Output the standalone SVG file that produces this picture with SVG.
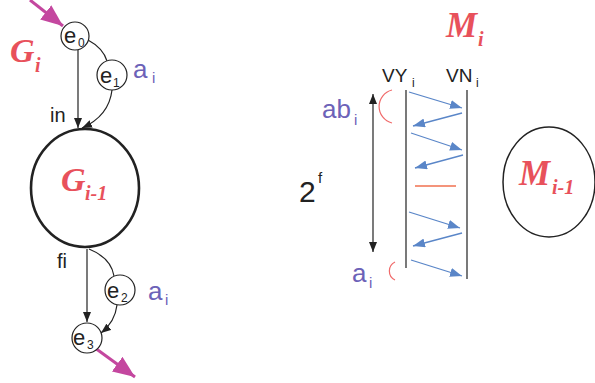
<svg xmlns="http://www.w3.org/2000/svg" width="595" height="383" viewBox="0 0 595 383">
<style>
.s{font-family:"Liberation Sans",Arial,sans-serif;fill:#222}
.p{font-family:"Liberation Sans",Arial,sans-serif;fill:#6c62b8}
.r{font-family:"Liberation Serif","Times New Roman",serif;font-weight:bold;font-style:italic;fill:#e8515b}
.ln{stroke:#222;fill:none;stroke-width:1.2}
.bl{stroke:#5a86c8;fill:none;stroke-width:1.3}
.c{fill:#fff;stroke:#222;stroke-width:1.2}
</style>
<defs>
<marker id="ak" markerUnits="userSpaceOnUse" markerWidth="10" markerHeight="8" refX="10" refY="4" orient="auto"><path d="M0,0 L10,4 L0,8 z" fill="#222"/></marker>
<marker id="aks" markerUnits="userSpaceOnUse" markerWidth="10" markerHeight="8" refX="0" refY="4" orient="auto"><path d="M10,0 L0,4 L10,8 z" fill="#222"/></marker>
<marker id="ab" markerUnits="userSpaceOnUse" markerWidth="12" markerHeight="9" refX="12" refY="4.5" orient="auto"><path d="M0,0 L12,4.5 L0,9 z" fill="#5a86c8"/></marker>
<marker id="am" markerUnits="userSpaceOnUse" markerWidth="22" markerHeight="18" refX="22" refY="9" orient="auto"><path d="M0,0 L22,9 L0,18 z" fill="#c4479f"/></marker>
</defs>
<g id="connectors">
<path d="M30,0 L63,26" stroke="#c4479f" stroke-width="3" fill="none" marker-end="url(#am)"/>
<path class="ln" d="M78,50 L78,128" marker-end="url(#ak)"/>
<path class="ln" d="M88,40 Q103,48 107,61"/>
<path class="ln" d="M112,90 Q109,116 82,128" marker-end="url(#ak)"/>
<path class="ln" d="M87,249 L87,322" marker-end="url(#ak)"/>
<path class="ln" d="M89,249 Q111,258 114,276"/>
<path class="ln" d="M117,305 Q115,322 101,333" marker-end="url(#ak)"/>
<path d="M95,348 L135,377" stroke="#c4479f" stroke-width="3" fill="none" marker-end="url(#am)"/>
</g>
<g id="Gi"><text class="r" x="10" y="62" font-size="34">G</text><text class="r" x="35" y="72" font-size="20">i</text></g>
<g id="e0"><circle class="c" cx="75" cy="36" r="14"/><text class="s" x="64" y="43" font-size="22">e</text><text class="s" x="78" y="47" font-size="12">0</text></g>
<g id="e1"><circle class="c" cx="112" cy="75" r="15"/><text class="s" x="100" y="83" font-size="22">e</text><text class="s" x="113" y="87" font-size="12">1</text></g>
<g id="label-a-top"><text class="p" x="133" y="78" font-size="26">a</text><text class="p" x="152" y="83" font-size="15">i</text></g>
<text class="s" x="50" y="122" font-size="20">in</text>
<g id="Gim1"><ellipse cx="85" cy="188" rx="54" ry="59" fill="none" stroke="#222" stroke-width="2.6"/><text class="r" x="61" y="191" font-size="34">G</text><text class="r" x="85" y="200" font-size="20">i-1</text></g>
<text class="s" x="57" y="268" font-size="20">fi</text>
<g id="e2"><circle class="c" cx="120" cy="290" r="15"/><text class="s" x="107" y="298" font-size="22">e</text><text class="s" x="121" y="302" font-size="12">2</text></g>
<g id="label-a-bot"><text class="p" x="148" y="300" font-size="26">a</text><text class="p" x="165" y="305" font-size="15">i</text></g>
<g id="e3"><circle class="c" cx="87" cy="338" r="15"/><text class="s" x="73" y="345" font-size="22">e</text><text class="s" x="87" y="349" font-size="12">3</text></g>
<g id="Mi"><text class="r" x="446" y="37" font-size="35">M</text><text class="r" x="478" y="46" font-size="20">i</text></g>
<g id="VYi"><text class="s" x="382" y="82" font-size="19">VY</text><text class="s" x="412" y="87" font-size="12">i</text></g>
<g id="VNi"><text class="s" x="446" y="82" font-size="19">VN</text><text class="s" x="476" y="87" font-size="12">i</text></g>
<g id="abi"><text class="p" x="322" y="118" font-size="26">ab</text><text class="p" x="354" y="125" font-size="15">i</text></g>
<g id="pow"><text class="s" x="299" y="202" font-size="30">2</text><text class="s" x="318" y="183" font-size="15">f</text></g>
<g id="ai-r"><text class="p" x="352" y="282" font-size="26">a</text><text class="p" x="369" y="288" font-size="15">i</text></g>
<g id="range"><path class="ln" d="M373,94 L373,252" marker-start="url(#aks)" marker-end="url(#ak)"/></g>
<g id="columns"><path class="ln" d="M406,90 L406,268 M467,90 L467,279"/></g>
<g id="marks">
<path d="M392,90 A17,17 0 0,0 392,123" fill="none" stroke="#f06a6a" stroke-width="1.2"/>
<path d="M395,262 A10,10 0 0,0 395,280" fill="none" stroke="#f06a6a" stroke-width="1.2"/>
<path d="M415,186 L456,186" stroke="#f0704f" stroke-width="1.3"/>
</g>
<g id="zigzag">
<path class="bl" d="M409,92 L462,108" marker-end="url(#ab)"/>
<path class="bl" d="M462,113 L413,126" marker-end="url(#ab)"/>
<path class="bl" d="M411,133 L462,150" marker-end="url(#ab)"/>
<path class="bl" d="M463,155 L415,168" marker-end="url(#ab)"/>
<path class="bl" d="M409,212 L460,228" marker-end="url(#ab)"/>
<path class="bl" d="M462,233 L413,246" marker-end="url(#ab)"/>
<path class="bl" d="M411,260 L462,276" marker-end="url(#ab)"/>
</g>
<g id="Mim1"><ellipse cx="549" cy="182" rx="46" ry="55" fill="none" stroke="#222" stroke-width="1.5"/><text class="r" x="519" y="185" font-size="35">M</text><text class="r" x="552" y="194" font-size="20">i-1</text></g>
</svg>
